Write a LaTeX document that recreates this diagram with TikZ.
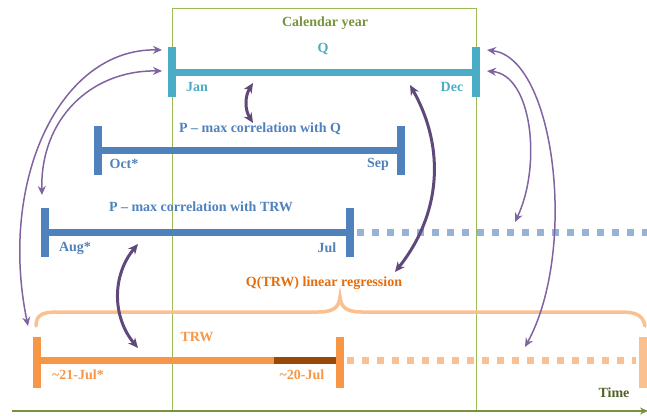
\documentclass[tikz,border=0pt]{standalone}
\usepackage{fontspec}
\setmainfont{Liberation Serif}
\usetikzlibrary{arrows.meta}
\definecolor{teal}{HTML}{4BACC6}
\definecolor{pblue}{HTML}{4F81BD}
\definecolor{lblue}{HTML}{95B3D7}
\definecolor{orng}{HTML}{F79646}
\definecolor{dorng}{HTML}{E46C0A}
\definecolor{brwn}{HTML}{984807}
\definecolor{lorng}{HTML}{FAC090}
\definecolor{boxgreen}{HTML}{9BBB59}
\definecolor{axgreen}{HTML}{77933C}
\definecolor{dgreen}{HTML}{4F6228}
\definecolor{lpurp}{HTML}{8064A2}
\definecolor{dpurp}{HTML}{5F497A}
\begin{document}
\begin{tikzpicture}[x=1pt,y=-1pt,
  lbl/.style={font=\bfseries\fontsize{14}{15}\selectfont, inner sep=0pt, anchor=center},
  bar/.style={line width=7pt, line cap=butt},
  tick/.style={line width=8pt, line cap=butt},
  dots/.style={line width=7pt, dash pattern=on 7pt off 8pt},
  larrow/.style={draw=lpurp, line width=1.5pt, {Stealth[length=9pt,width=8pt]}-{Stealth[length=9pt,width=8pt]}},
  darrow/.style={draw=dpurp, line width=3pt, {Stealth[length=10pt,width=9pt]}-{Stealth[length=10pt,width=9pt]}},
]
\useasboundingbox (0,0) rectangle (647,415);
% calendar year box
\draw[boxgreen, line width=1pt] (172,8) rectangle (476,411);
\node[lbl, text=axgreen] (cal) at (325,23) {Calendar year};
% time axis
\coordinate (t0) at (12,411);
\coordinate (t1) at (648,411);
\draw[axgreen, line width=2.5pt, -{Stealth[length=8pt,width=7pt]}] (t0) -- (t1);
\node[lbl, text=dgreen] (time) at (614,393) {Time};

% Q bar
\coordinate (qL) at (172,72); \coordinate (qR) at (476,72);
\draw[teal, bar] (qL) -- (qR);
\draw[teal, tick] (172,47) -- (172,97);
\draw[teal, tick] (476,47) -- (476,97);
\node[lbl, text=teal] (q) at (323,49) {Q};
\node[lbl, text=teal] (jan) at (197,87) {Jan};
\node[lbl, text=teal] (dec) at (452,87) {Dec};

% P(Q) bar
\coordinate (pqL) at (98,150); \coordinate (pqR) at (401,150);
\draw[pblue, bar] (pqL) -- (pqR);
\draw[pblue, tick] (98,126) -- (98,175);
\draw[pblue, tick] (401,126) -- (401,175);
\node[lbl, text=pblue] (pq) at (260,129) {P – max correlation with Q};
\node[lbl, text=pblue] (oct) at (124,164) {Oct*};
\node[lbl, text=pblue] (sep) at (378,164) {Sep};

% P(TRW) bar
\coordinate (ptL) at (45,232); \coordinate (ptR) at (350,232);
\draw[pblue, bar] (ptL) -- (ptR);
\draw[pblue, tick] (45,208) -- (45,257);
\draw[pblue, tick] (350,208) -- (350,257);
\coordinate (ptE) at (647,232);
\draw[lblue, dots] (357,232) -- (ptE);
\node[lbl, text=pblue] (pt) at (201,207) {P – max correlation with TRW};
\node[lbl, text=pblue] (aug) at (75,248) {Aug*};
\node[lbl, text=pblue] (jul) at (327,248) {Jul};

% regression brace
\node[lbl, text=dorng] (reg) at (324,283) {Q(TRW) linear regression};
\draw[lorng, line width=3.5pt, line cap=round]
  (36,326) .. controls (36,313) and (45,312) .. (60,312) -- (318,312)
  .. controls (334,312) and (339,307) .. (340,297)
  .. controls (341,307) and (346,312) .. (362,312) -- (620,312)
  .. controls (636,312) and (643,315) .. (645,326);

% TRW bar
\coordinate (tL) at (37,360); \coordinate (tM) at (274,360); \coordinate (tR) at (340,360);
\draw[orng, bar] (tL) -- (tM);
\draw[brwn, bar] (tM) -- (tR);
\draw[orng, tick] (37,337) -- (37,388);
\draw[orng, tick] (340,337) -- (340,388);
\coordinate (tE) at (643,360);
\draw[lorng, dots] (347,360) -- (636,360);
\draw[lorng, tick] (643,337) -- (643,388);
\node[lbl, text=orng] (trw) at (197,337) {TRW};
\node[lbl, text=orng] (d21) at (78,375) {\textasciitilde21-Jul*};
\node[lbl, text=orng] (d20) at (302,375) {\textasciitilde20-Jul};

% light purple arrows
\coordinate (a1) at (162,50); \coordinate (a2) at (28,326);
\coordinate (b1) at (162,71); \coordinate (b2) at (42,195);
\coordinate (c1) at (487,50); \coordinate (c2) at (525,347);
\coordinate (d1) at (487,71); \coordinate (d2) at (515,222);
\draw[larrow] (a1) .. controls (60,48) and (-2,180) .. (a2);
\draw[larrow] (b1) .. controls (90,70) and (40,120) .. (b2);
\draw[larrow] (c1) .. controls (555,58) and (578,250) .. (c2);
\draw[larrow] (d1) .. controls (532,75) and (542,165) .. (d2);

% dark purple arrows
\coordinate (e1) at (253,83); \coordinate (e2) at (253,123);
\coordinate (f1) at (138,244); \coordinate (f2) at (138,348);
\coordinate (g1) at (410,85); \coordinate (g2) at (395,272);
\draw[darrow] (e1) to[bend right=32] (e2);
\draw[darrow] (f1) to[bend right=40] (f2);
\draw[darrow] (g1) to[bend left=34] (g2);
\end{tikzpicture}
\end{document}
